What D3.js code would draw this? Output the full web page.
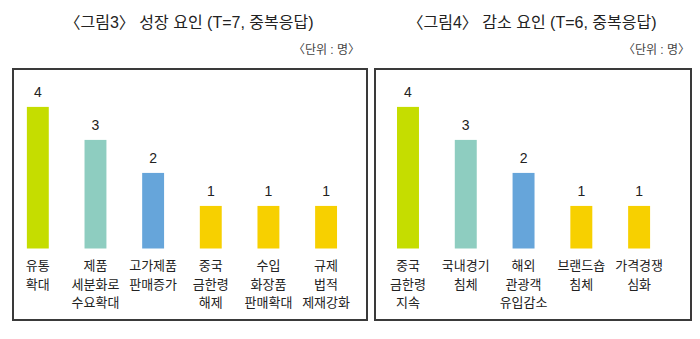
<!DOCTYPE html>
<html><head><meta charset="utf-8">
<script src="https://cdn.jsdelivr.net/npm/d3@7"></script>
<style>body{margin:0;background:#fff}svg{display:block}text{font-family:"Liberation Sans","Noto Sans CJK KR",sans-serif;fill:#222}</style>
</head><body><svg id="c" width="700" height="339"></svg>
<script>
const titleLeft = "〈그림3〉 성장 요인 (T=7, 중복응답)";
const titleRight = "〈그림4〉 감소 요인 (T=6, 중복응답)";
const unitLabel = "〈단위 : 명〉";
const catsLeft = [["유통","확대"],["제품","세분화로","수요확대"],["고가제품","판매증가"],["중국","금한령","해제"],["수입","화장품","판매확대"],["규제","법적","제재강화"]];
const valsLeft = [4,3,2,1,1,1];
const catsRight = [["중국","금한령","지속"],["국내경기","침체"],["해외","관광객","유입감소"],["브랜드숍","침체"],["가격경쟁","심화"]];
const valsRight = [4,3,2,1,1];
const colorsLeft = ["#c5dd00","#8ecdc0","#66a5da","#f7d000","#f7d000","#f7d000"];
const colorsRight = ["#c5dd00","#8ecdc0","#66a5da","#f7d000","#f7d000"];

const svg = d3.select("#c");
const y = d3.scaleLinear().domain([-0.29, 4]).range([248.5, 106.9]);

function panel(cfg){
  const g = svg.append("g");
  g.append("rect").attr("x",cfg.box[0]).attr("y",69).attr("width",cfg.box[1]-cfg.box[0]).attr("height",251)
    .attr("fill","none").attr("stroke","#3a3a3a").attr("stroke-width",2);
  g.append("text").attr("x",cfg.titleX).attr("y",28).attr("text-anchor","middle").attr("font-size",16).text(cfg.title);
  g.append("text").attr("x",cfg.unitX).attr("y",54).attr("text-anchor","end").attr("font-size",12).style("fill","#444").text(unitLabel);
  const idx = d3.range(cfg.vals.length);
  const x = d3.scaleBand().domain(idx).range(cfg.range).paddingInner(0.62).paddingOuter(0.31);
  g.selectAll("rect.bar").data(idx).join("rect").attr("class","bar")
    .attr("x",i=>x(i)).attr("width",x.bandwidth())
    .attr("y",i=>y(cfg.vals[i])).attr("height",i=>y(-0.29)-y(cfg.vals[i]))
    .attr("fill",i=>cfg.colors[i]);
  g.selectAll("text.val").data(idx).join("text").attr("class","val")
    .attr("x",i=>x(i)+x.bandwidth()/2).attr("y",i=>y(cfg.vals[i])-10)
    .attr("text-anchor","middle").attr("font-size",14).text(i=>cfg.vals[i]);
  idx.forEach(i=>{
    cfg.cats[i].forEach((line,j)=>{
      g.append("text").attr("x",x(i)+x.bandwidth()/2).attr("y",270+j*18.5)
        .attr("text-anchor","middle").attr("font-size",13).text(line);
    });
  });
}
panel({box:[13,367],title:titleLeft,titleX:189,unitX:360,range:[9,354.9],vals:valsLeft,cats:catsLeft,colors:colorsLeft});
panel({box:[375,691],title:titleRight,titleX:532,unitX:690,range:[379.1,668],vals:valsRight,cats:catsRight,colors:colorsRight});
</script></body></html>
